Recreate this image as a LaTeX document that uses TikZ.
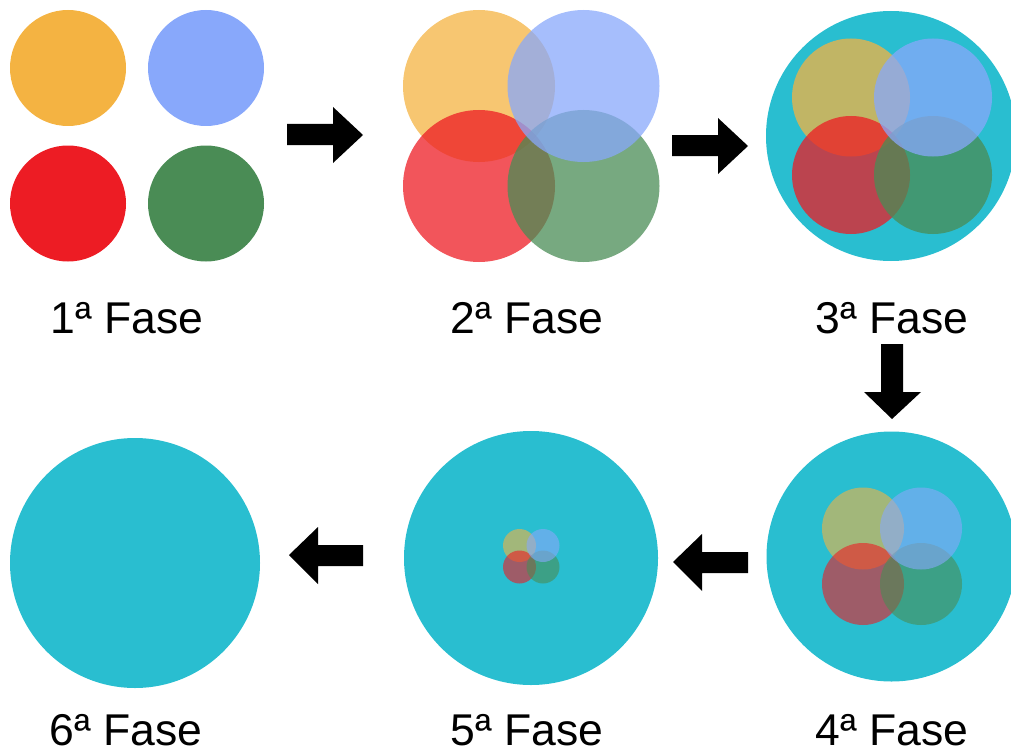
\documentclass[tikz,border=0pt]{standalone}
\usepackage{fontspec}
\setmainfont{Liberation Sans}
\definecolor{cOrange}{HTML}{F4B342}
\definecolor{cBlue}{HTML}{88A8FB}
\definecolor{cRed}{HTML}{ED1C24}
\definecolor{cGreen}{HTML}{4A8C55}
\definecolor{cCyan}{HTML}{29BED0}
\begin{document}
\begin{tikzpicture}[x=1pt,y=-1pt,
  blob/.style={circle,inner sep=0pt,draw=none,minimum size=#1},
  big/.style={blob=250pt,fill=cCyan},
  label/.style={anchor=base,inner sep=0pt,font=\fontsize{44.5}{50}\selectfont},
  blockarrow/.style={fill=black}]
\useasboundingbox (0,0) rectangle (1011,749);

% phase 1: separate colours
\node[blob=116pt,fill=cOrange] (p1o) at (68,68) {};
\node[blob=116pt,fill=cBlue]   (p1b) at (206,68) {};
\node[blob=116pt,fill=cRed]    (p1r) at (68,203.5) {};
\node[blob=116pt,fill=cGreen]  (p1g) at (206,203.5) {};
\node[label] (t1) at (127,333) {1ª Fase};

% phase 2: overlapping, translucent (stacking: orange, red, green, blue)
\begin{scope}[fill opacity=0.75]
\node[blob=152pt,fill=cOrange] (p2o) at (479,86) {};
\node[blob=152pt,fill=cRed]    (p2r) at (479,186) {};
\node[blob=152pt,fill=cGreen]  (p2g) at (583.5,186) {};
\node[blob=152pt,fill=cBlue]   (p2b) at (583.5,86) {};
\end{scope}
\node[label] (t2) at (527,333) {2ª Fase};

% phase 3: enclosed by the cyan disc
\node[big] (p3) at (891,136) {};
\begin{scope}[fill opacity=0.75]
\node[blob=118pt,fill=cOrange] (p3o) at (851,97.5) {};
\node[blob=118pt,fill=cRed]    (p3r) at (851,175) {};
\node[blob=118pt,fill=cGreen]  (p3g) at (933,175) {};
\node[blob=118pt,fill=cBlue]   (p3b) at (933,97.5) {};
\end{scope}
\node[label] (t3) at (892,333) {3ª Fase};

% phase 4: shrinking
\node[big] (p4) at (891.5,556.5) {};
\begin{scope}[fill opacity=0.6]
\node[blob=82pt,fill=cOrange] (p4o) at (863,528.5) {};
\node[blob=82pt,fill=cRed]    (p4r) at (863,584) {};
\node[blob=82pt,fill=cGreen]  (p4g) at (921,584) {};
\node[blob=82pt,fill=cBlue]   (p4b) at (921,528.5) {};
\end{scope}
\node[label] (t4) at (892,745) {4ª Fase};

% phase 5: almost dissolved
\node[big,minimum size=254pt] (p5) at (531,558) {};
\begin{scope}[fill opacity=0.6]
\node[blob=33pt,fill=cOrange] (p5o) at (519.5,545.5) {};
\node[blob=33pt,fill=cRed]    (p5r) at (519.5,567) {};
\node[blob=33pt,fill=cGreen]  (p5g) at (543,567) {};
\node[blob=33pt,fill=cBlue]   (p5b) at (543,545.5) {};
\end{scope}
\node[label] (t5) at (527,745) {5ª Fase};

% phase 6: fully merged
\node[big] (p6) at (135,563) {};
\node[label] (t6) at (126,745) {6ª Fase};

% block arrows between phases
\fill[blockarrow] (287,124) -- (333,124) -- (333,107) -- (363,135) -- (333,163) -- (333,145) -- (287,145) -- cycle;
\fill[blockarrow] (672,135) -- (718,135) -- (718,118) -- (748,146) -- (718,174) -- (718,156) -- (672,156) -- cycle;
\fill[blockarrow] (881,344) -- (903,344) -- (903,392) -- (921,392) -- (892,419) -- (864,392) -- (881,392) -- cycle;
\fill[blockarrow] (748,552) -- (702,552) -- (702,534) -- (673,562) -- (702,591) -- (702,573) -- (748,573) -- cycle;
\fill[blockarrow] (363,545) -- (318,545) -- (318,527) -- (289,555) -- (318,584) -- (318,566) -- (363,566) -- cycle;
\end{tikzpicture}
\end{document}
